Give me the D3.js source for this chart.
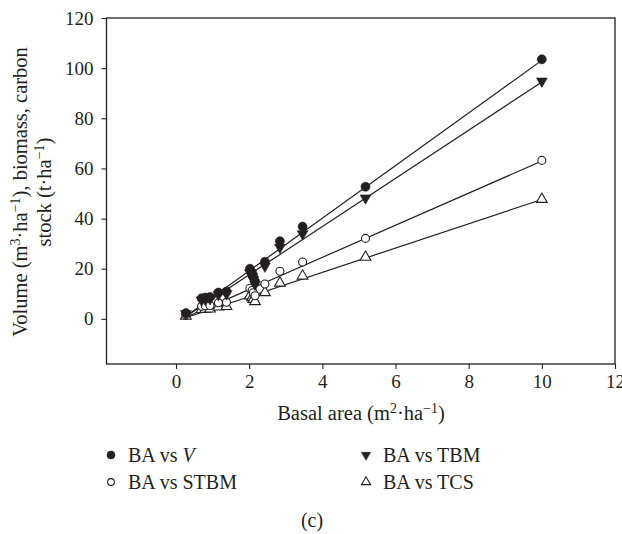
<!DOCTYPE html>
<html>
<head>
<meta charset="utf-8">
<script src="https://cdn.jsdelivr.net/npm/d3@7"></script>
<style>
  html, body { margin: 0; padding: 0; background: #fff; }
  svg { display: block; }
  text { font-family: "Liberation Serif", "Times New Roman", serif; fill: #231f20; }
</style>
</head>
<body>
<svg id="chart" width="622" height="534"></svg>
<script>
// Basal area (m²·ha⁻¹) per plot
const basalArea = [0.27, 0.70, 0.80, 0.93, 1.16, 1.38, 2.02, 2.08, 2.11, 2.16, 2.43, 2.84, 3.46, 5.18, 10.0];
// Stand volume (m³·ha⁻¹)
const volume    = [2.3, 8.2, 8.5, 8.7, 10.5, 10.9, 20.0, 18.5, 17.0, 15.0, 22.8, 31.0, 36.8, 52.7, 103.5];
// Total biomass (t·ha⁻¹)
const tbm       = [2.1, 7.5, 7.8, 8.0, 9.7, 10.0, 18.4, 17.0, 15.6, 13.8, 21.0, 28.5, 33.9, 48.2, 94.8];
// Stem biomass (t·ha⁻¹)
const stbm      = [1.5, 5.0, 5.2, 5.3, 6.4, 6.6, 12.2, 11.3, 10.4, 9.2, 13.9, 19.0, 22.7, 32.1, 63.2];
// Total carbon stock (t·ha⁻¹)
const tcs       = [1.1, 3.8, 3.9, 4.0, 4.8, 5.0, 9.2, 8.5, 7.8, 6.9, 10.5, 14.3, 17.1, 24.6, 47.7];

const xTicks = [0, 2, 4, 6, 8, 10, 12];
const yTicks = [0, 20, 40, 60, 80, 100, 120];

const series = [
  { key: "V",    label: "BA vs ", italic: "V", values: volume, symbol: "circle",   filled: true },
  { key: "STBM", label: "BA vs STBM", values: stbm,   symbol: "circle",   filled: false },
  { key: "TBM",  label: "BA vs TBM",  values: tbm,    symbol: "triangleDown", filled: true },
  { key: "TCS",  label: "BA vs TCS",  values: tcs,    symbol: "triangleUp",   filled: false }
];

const ink = "#231f20";
const svg = d3.select("#chart");

const frame = { left: 106.5, right: 615, top: 18, bottom: 364 };
const x = d3.scaleLinear().domain([-1.9, 12]).range([frame.left, frame.right]);
const y = d3.scaleLinear().domain([-18, 120]).range([frame.bottom, frame.top]);

// marker shapes
function markerPath(symbol, size) {
  if (symbol === "circle") return d3.symbol(d3.symbolCircle, size)();
  return d3.symbol(d3.symbolTriangle, size)();
}

// axes
const xAxis = svg.append("g")
  .attr("transform", `translate(0,${frame.bottom})`)
  .call(d3.axisBottom(x).tickValues(xTicks).tickSize(5).tickPadding(6).tickSizeOuter(0));
const yAxis = svg.append("g")
  .attr("transform", `translate(${frame.left},0)`)
  .call(d3.axisLeft(y).tickValues(yTicks).tickSize(5).tickPadding(8).tickSizeOuter(0));
[xAxis, yAxis].forEach(g => {
  g.select(".domain").remove();
  g.selectAll("line").attr("stroke", ink).attr("stroke-width", 1.1);
  g.selectAll("text").attr("font-size", 19).attr("font-family", "Liberation Serif, serif").attr("fill", ink);
});

// plot frame
svg.append("rect")
  .attr("x", frame.left).attr("y", frame.top)
  .attr("width", frame.right - frame.left).attr("height", frame.bottom - frame.top)
  .attr("fill", "none").attr("stroke", ink).attr("stroke-width", 1.3);

// least-squares fit line per series
function fit(xs, ys) {
  const mx = d3.mean(xs), my = d3.mean(ys);
  let sxy = 0, sxx = 0;
  xs.forEach((v, i) => { sxy += (v - mx) * (ys[i] - my); sxx += (v - mx) * (v - mx); });
  const b = sxy / sxx;
  return { a: my - b * mx, b };
}
const [xMin, xMax] = d3.extent(basalArea);
series.forEach(s => {
  const f = fit(basalArea, s.values);
  svg.append("line")
    .attr("x1", x(xMin)).attr("y1", y(f.a + f.b * xMin))
    .attr("x2", x(xMax)).attr("y2", y(f.a + f.b * xMax))
    .attr("stroke", ink).attr("stroke-width", 1.2);
});

// data markers
function drawMarker(g, s, cx, cy, size) {
  return g.append("path")
    .attr("d", markerPath(s.symbol, size))
    .attr("transform", `translate(${cx},${cy})` + (s.symbol === "triangleDown" ? " rotate(180)" : ""))
    .attr("fill", s.filled ? ink : "#fff")
    .attr("stroke", ink)
    .attr("stroke-width", s.filled ? 0.6 : 1.1);
}
const markG = svg.append("g");
// open markers first, filled on top
[series[3], series[1], series[2], series[0]].forEach(s => {
  basalArea.forEach((bx, i) => {
    const size = s.symbol === "circle" ? (s.filled ? 64 : 50) : 50;
    drawMarker(markG, s, x(bx), y(s.values[i]), size);
  });
});

// axis titles
const xTitle = svg.append("text")
  .attr("x", 361).attr("y", 420).attr("text-anchor", "middle").attr("font-size", 20.5);
xTitle.append("tspan").text("Basal area (m");
xTitle.append("tspan").attr("dy", -7).attr("font-size", 14).text("2");
xTitle.append("tspan").attr("dy", 7).text("·ha");
xTitle.append("tspan").attr("dy", -7).attr("font-size", 14).text("−1");
xTitle.append("tspan").attr("dy", 7).text(")");

const yTitle = svg.append("g").attr("transform", "translate(0,192) rotate(-90)");
const l1 = yTitle.append("text").attr("x", 0).attr("y", 27).attr("text-anchor", "middle").attr("font-size", 20.5);
l1.append("tspan").text("Volume (m");
l1.append("tspan").attr("dy", -7).attr("font-size", 14).text("3");
l1.append("tspan").attr("dy", 7).text("·ha");
l1.append("tspan").attr("dy", -7).attr("font-size", 14).text("−1");
l1.append("tspan").attr("dy", 7).text("), biomass, carbon");
const l2 = yTitle.append("text").attr("x", 0).attr("y", 51).attr("text-anchor", "middle").attr("font-size", 20.5);
l2.append("tspan").text("stock (t·ha");
l2.append("tspan").attr("dy", -7).attr("font-size", 14).text("−1");
l2.append("tspan").attr("dy", 7).text(")");

// legend
const legendPos = [
  { mx: 111, tx: 128, cy: 455 },
  { mx: 111, tx: 128, cy: 482 },
  { mx: 366, tx: 383, cy: 455 },
  { mx: 366, tx: 383, cy: 482 }
];
const legend = svg.append("g");
series.forEach((s, i) => {
  const p = legendPos[i];
  drawMarker(legend, s, p.mx, p.cy, s.symbol === "circle" ? (s.filled ? 50 : 36) : 36);
  const t = legend.append("text").attr("x", p.tx).attr("y", p.cy + 6.5).attr("font-size", 20);
  t.append("tspan").text(s.label);
  if (s.italic) t.append("tspan").attr("font-style", "italic").text(s.italic);
});

// panel tag
svg.append("text").attr("x", 312).attr("y", 527).attr("text-anchor", "middle")
  .attr("font-size", 20).text("(c)");
</script>
</body>
</html>
